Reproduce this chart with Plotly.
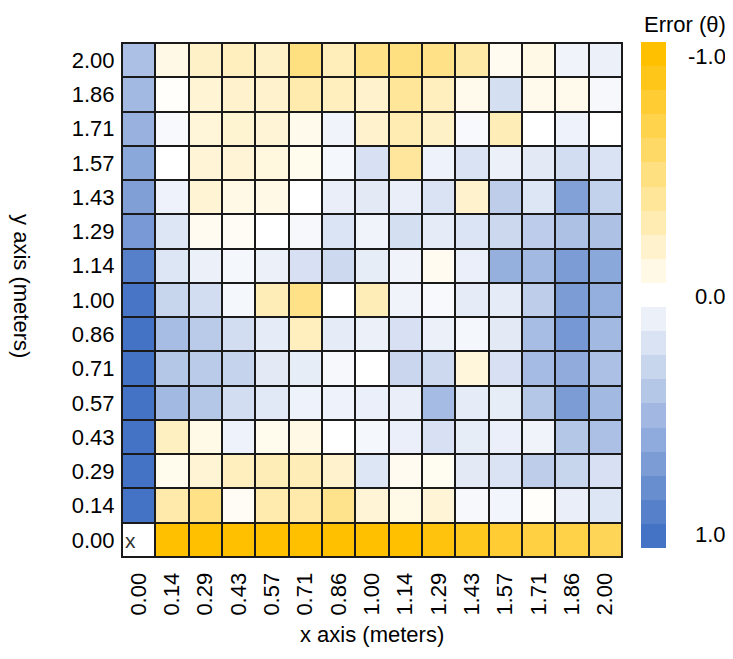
import plotly.graph_objects as go

x_labels = ["0.00", "0.14", "0.29", "0.43", "0.57", "0.71", "0.86", "1.00",
            "1.14", "1.29", "1.43", "1.57", "1.71", "1.86", "2.00"]
y_labels = ["0.00", "0.14", "0.29", "0.43", "0.57", "0.71", "0.86", "1.00",
            "1.14", "1.29", "1.43", "1.57", "1.71", "1.86", "2.00"]

# error values, rows listed from y = 0.00 (bottom) up to y = 2.00 (top)
row_000 = [0.00, -1.00, -1.00, -1.00, -1.00, -1.00, -1.00, -1.00, -1.00, -0.95, -0.88, -0.80, -0.74, -0.72, -0.66]
row_014 = [1.00, -0.33, -0.47, -0.04, -0.32, -0.33, -0.45, -0.16, -0.09, -0.16, 0.05, 0.07, -0.02, 0.12, 0.18]
row_029 = [1.00, -0.07, -0.17, -0.25, -0.28, -0.28, -0.20, 0.18, -0.06, -0.05, 0.15, 0.20, 0.35, 0.30, 0.21]
row_043 = [1.00, -0.24, -0.09, 0.09, -0.07, -0.10, 0.00, 0.06, 0.11, 0.21, 0.13, 0.11, 0.08, 0.40, 0.45]
row_057 = [1.00, 0.50, 0.40, 0.24, 0.16, 0.09, 0.09, 0.11, 0.12, 0.48, 0.14, 0.13, 0.40, 0.70, 0.50]
row_071 = [1.00, 0.40, 0.37, 0.31, 0.15, 0.13, 0.05, 0.00, 0.29, 0.27, -0.14, 0.21, 0.48, 0.59, 0.45]
row_086 = [1.00, 0.47, 0.37, 0.24, 0.14, -0.25, 0.14, 0.10, 0.21, 0.10, 0.06, 0.15, 0.47, 0.73, 0.50]
row_100 = [0.98, 0.30, 0.24, 0.06, -0.28, -0.47, 0.00, -0.28, 0.08, 0.04, 0.14, 0.14, 0.35, 0.70, 0.57]
row_114 = [0.90, 0.18, 0.10, 0.06, 0.10, 0.21, 0.27, 0.13, 0.08, -0.06, 0.11, 0.56, 0.50, 0.70, 0.62]
row_129 = [0.72, 0.18, -0.06, -0.04, 0.00, 0.05, 0.19, 0.08, 0.23, 0.14, 0.19, 0.28, 0.36, 0.44, 0.44]
row_143 = [0.68, 0.09, -0.17, -0.10, -0.10, 0.00, 0.12, 0.15, 0.12, 0.20, -0.20, 0.35, 0.18, 0.67, 0.32]
row_157 = [0.62, 0.00, -0.16, -0.16, -0.13, -0.07, 0.06, 0.21, -0.39, 0.09, 0.20, 0.10, 0.15, 0.24, 0.20]
row_171 = [0.55, 0.04, -0.15, -0.18, -0.16, -0.08, 0.08, -0.20, -0.30, -0.22, 0.04, -0.28, 0.00, 0.09, 0.00]
row_186 = [0.50, -0.02, -0.17, -0.20, -0.20, -0.32, -0.25, -0.20, -0.40, -0.25, -0.08, 0.23, -0.08, -0.08, 0.05]
row_200 = [0.45, -0.10, -0.22, -0.25, -0.22, -0.50, -0.27, -0.47, -0.50, -0.47, -0.35, -0.06, -0.10, 0.08, 0.10]

z_rows = [row_000, row_014, row_029, row_043, row_057, row_071, row_086, row_100,
          row_114, row_129, row_143, row_157, row_171, row_186, row_200]

cbar_labels = ["-1.0", "0.0", "1.0"]
colorbar_title = "Error (θ)"
x_title = "x axis (meters)"
y_title = "y axis (meters)"
ref_mark = "x"

GOLD = (255, 192, 0)
BLUE = (68, 114, 196)


def tint(c, f):
    return "rgb(%d,%d,%d)" % tuple(round(255 - (255 - v) * f) for v in c)


# continuous scale for the cells: gold (-1) -> white (0) -> blue (+1)
cell_scale = [[0.0, tint(GOLD, 1.0)], [0.5, "rgb(255,255,255)"], [1.0, tint(BLUE, 1.0)]]

# discrete scale for the legend bar: blue at the bottom, white band, gold on top
band_colors = [tint(BLUE, (10 - k) / 10) for k in range(10)] + ["rgb(255,255,255)"] + \
              [tint(GOLD, (k + 1) / 10) for k in range(10)]
nb = len(band_colors)
bar_scale = []
for k, c in enumerate(band_colors):
    bar_scale.append([k / nb, c])
    bar_scale.append([(k + 1) / nb, c])

FONT = "Liberation Sans, Arial, sans-serif"
FS = 22

fig = go.Figure()

# invisible trace that only carries the stepped legend bar
fig.add_trace(go.Scatter(
    x=[x_labels[0]], y=[y_labels[0]], mode="markers",
    marker=dict(color=[0], cmin=-1, cmax=1, colorscale=bar_scale, opacity=0, size=1,
                showscale=True,
                colorbar=dict(thickness=25, len=0.984, lenmode="fraction",
                              x=1.038, xanchor="left", xpad=0,
                              y=0.51, yanchor="middle", ypad=0,
                              outlinewidth=0, ticks="", showticklabels=False)),
    hoverinfo="skip", showlegend=False))

fig.add_trace(go.Heatmap(
    x=x_labels, y=y_labels, z=z_rows,
    zmin=-1, zmax=1, colorscale=cell_scale, showscale=False,
    xgap=2, ygap=2))

ann = []
ann.append(dict(x=x_labels[0], y=y_labels[0], xref="x", yref="y", text=ref_mark,
                showarrow=False, xshift=-8, yshift=-1,
                font=dict(family=FONT, size=21, color="#333333")))
ann.append(dict(x=-0.2, y=0.527, xref="paper", yref="paper", text=y_title,
                textangle=90, showarrow=False, xanchor="center", yanchor="middle",
                font=dict(family=FONT, size=FS, color="black")))
ann.append(dict(x=0.5, y=-0.15, xref="paper", yref="paper", text=x_title,
                showarrow=False, xanchor="center", yanchor="middle",
                font=dict(family=FONT, size=FS, color="black")))
ann.append(dict(x=1.212, y=1.036, xref="paper", yref="paper", text=colorbar_title,
                showarrow=False, xanchor="right", yanchor="middle",
                font=dict(family=FONT, size=FS, color="black")))
for lab, yy in zip(cbar_labels, [0.973, 0.506, 0.043]):
    ann.append(dict(x=1.212, y=yy, xref="paper", yref="paper", text=lab,
                    showarrow=False, xanchor="right", yanchor="middle",
                    font=dict(family=FONT, size=FS, color="black")))

# the page adds an 8 px body margin, so the figure is 8 px smaller than the window
fig.update_layout(
    width=725, height=651,
    margin=dict(l=114, r=111, t=35, b=102),
    paper_bgcolor="white", plot_bgcolor="#1a1a1a",
    font=dict(family=FONT, size=FS, color="black"),
    annotations=ann,
    xaxis=dict(type="category", range=[-0.5, 14.5], autorange=False,
               tickangle=-90, ticks="outside", ticklen=6,
               tickcolor="rgba(0,0,0,0)", showline=True, mirror=True,
               linecolor="#1a1a1a", linewidth=1, showgrid=False, zeroline=False,
               tickfont=dict(family=FONT, size=FS, color="black")),
    yaxis=dict(type="category", range=[-0.5, 14.5], autorange=False,
               ticks="outside", ticklen=2,
               tickcolor="rgba(0,0,0,0)", showline=True, mirror=True,
               linecolor="#1a1a1a", linewidth=1, showgrid=False, zeroline=False,
               tickfont=dict(family=FONT, size=FS, color="black")),
)

fig.write_html("out.html")
